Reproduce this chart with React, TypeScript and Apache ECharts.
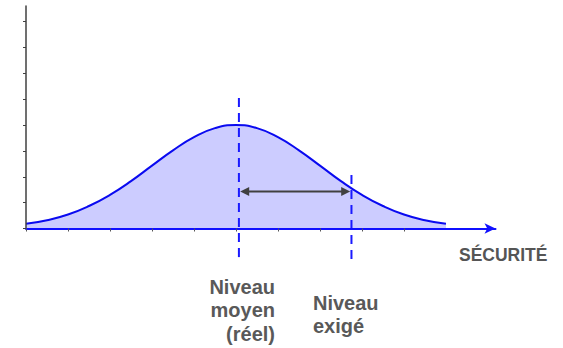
import React, { useEffect, useRef } from "react";
import * as echarts from "echarts";

// Curve (x in axis units, y in axis units)
const xValues = [0, 0.5, 1, 1.5, 2, 2.5, 3, 3.5, 4, 4.5, 5, 5.5, 6, 6.5, 7, 7.5, 8, 8.5, 9, 9.5, 10];
const density = [0.18, 0.32, 0.54, 0.87, 1.3, 1.83, 2.43, 3.02, 3.53, 3.88, 4.0, 3.88, 3.53, 3.02, 2.43, 1.83, 1.3, 0.87, 0.54, 0.32, 0.18];

// Axis ticks
const xTicks = [0, 1, 2, 3, 4, 5, 6, 7, 8, 9];
const yTicks = [0, 1, 2, 3, 4, 5, 6, 7, 8];

// Reference levels: dashed verticals [x, top, bottom]
const levelX = [5.07, 7.75];
const levelTop = [5.04, 2.07];
const levelBottom = [-1.22, -1.22];

// Double arrow between levels [x1, x2, y]
const gapArrow = [[5.1, 7.72, 1.43]];

// Labels
const labelMoyen = "Niveau\nmoyen\n(réel)";
const labelExige = "Niveau\nexigé";
const axisTitle = "SÉCURITÉ";

const FONT = "'Liberation Sans', Arial, sans-serif";

export default function App() {
  const ref = useRef<HTMLDivElement>(null);
  useEffect(() => {
    if (!ref.current) return;
    const chart = echarts.init(ref.current, null, { renderer: "svg" });
    const curveData = xValues.map((x, i) => [x, density[i]]);
    const levelData = levelX.map((x, i) => [x, levelTop[i], levelBottom[i]]);
    chart.setOption({
      animation: false,
      backgroundColor: "#ffffff",
      grid: { left: 26, top: 6, right: 67.5, bottom: 119.5, containLabel: false },
      xAxis: {
        type: "value",
        min: 0,
        max: 11.18,
        z: 10,
        splitLine: { show: false },
        axisLabel: { show: false },
        axisLine: {
          show: true,
          onZero: false,
          symbol: ["none", "arrow"],
          symbolSize: [8, 11],
          lineStyle: { color: "#1010ff", width: 2 },
        },
        axisTick: {
          show: true,
          inside: false,
          length: 3,
          customValues: xTicks,
          lineStyle: { color: "#555555", width: 1 },
        },
      },
      yAxis: {
        type: "value",
        min: 0,
        max: 8.6,
        z: 10,
        splitLine: { show: false },
        axisLabel: { show: false },
        axisLine: { show: true, lineStyle: { color: "#404040", width: 1.5 } },
        axisTick: {
          show: true,
          inside: false,
          length: 3,
          customValues: yTicks,
          lineStyle: { color: "#404040", width: 1 },
        },
      },
      series: [
        {
          type: "line",
          data: curveData,
          smooth: true,
          symbol: "none",
          z: 2,
          lineStyle: { color: "#0a0af0", width: 2 },
          areaStyle: { color: "#ccccff", opacity: 1 },
        },
        {
          type: "custom",
          z: 3,
          data: levelData,
          renderItem: (params: any, api: any) => {
            const p1 = api.coord([api.value(0), api.value(1)]);
            const p2 = api.coord([api.value(0), api.value(2)]);
            return {
              type: "line",
              shape: { x1: p1[0], y1: p1[1], x2: p2[0], y2: p2[1] },
              style: { stroke: "#1a1aff", lineWidth: 2, lineDash: [9, 6] },
            };
          },
        },
        {
          type: "custom",
          z: 4,
          data: gapArrow,
          renderItem: (params: any, api: any) => {
            const a = api.coord([api.value(0), api.value(2)]);
            const b = api.coord([api.value(1), api.value(2)]);
            const L = 9;
            const W = 4.5;
            const col = "#404040";
            return {
              type: "group",
              children: [
                {
                  type: "line",
                  shape: { x1: a[0] + L - 1, y1: a[1], x2: b[0] - L + 1, y2: b[1] },
                  style: { stroke: col, lineWidth: 2 },
                },
                {
                  type: "polygon",
                  shape: { points: [[a[0], a[1]], [a[0] + L, a[1] - W], [a[0] + L, a[1] + W]] },
                  style: { fill: col },
                },
                {
                  type: "polygon",
                  shape: { points: [[b[0], b[1]], [b[0] - L, b[1] - W], [b[0] - L, b[1] + W]] },
                  style: { fill: col },
                },
              ],
            };
          },
        },
      ],
      graphic: [
        {
          type: "text",
          x: 275,
          y: 275,
          style: {
            text: labelMoyen,
            font: `bold 20px ${FONT}`,
            fill: "#595959",
            align: "right",
            verticalAlign: "top",
            lineHeight: 23.5,
          },
        },
        {
          type: "text",
          x: 313,
          y: 291,
          style: {
            text: labelExige,
            font: `bold 20px ${FONT}`,
            fill: "#595959",
            align: "left",
            verticalAlign: "top",
            lineHeight: 23.5,
          },
        },
        {
          type: "text",
          x: 459,
          y: 255,
          style: {
            text: axisTitle,
            font: `bold 17.5px ${FONT}`,
            fill: "#555555",
            align: "left",
            verticalAlign: "middle",
          },
        },
      ],
    });
    return () => chart.dispose();
  }, []);
  return <div ref={ref} style={{ width: 563, height: 348, position: "fixed", left: 0, top: 0 }} />;
}
